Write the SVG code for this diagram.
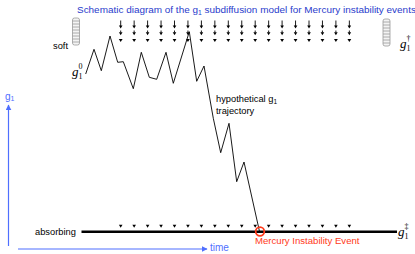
<svg xmlns="http://www.w3.org/2000/svg" xmlns:xlink="http://www.w3.org/1999/xlink" width="415" height="254" viewBox="0 0 415 254">
<style>
.sans{font-family:"Liberation Sans",Arial,sans-serif}
.ser{font-family:"Liberation Serif","Times New Roman",serif;font-style:italic}
.title{fill:#2a3ccc;font-size:9.95px}
.lbl{fill:#000;font-size:9.3px}
.red{fill:#ff3a1a;font-size:9.6px}
.blue{fill:#4f6fff;font-size:10px}
.traj{fill:none;stroke:#000;stroke-width:0.9}
.coil{fill:#f4f4f4;stroke:#999;stroke-width:0.8}
</style>
<defs>
<g id="col">
<line x1="0" y1="20.5" x2="0" y2="26" stroke="#000" stroke-width="0.9"/>
<path d="M-1.8,25.5 L1.8,25.5 L0,28.5 Z" fill="#000"/>
<line x1="0" y1="30.5" x2="0" y2="32.5" stroke="#000" stroke-width="0.9"/>
<path d="M-1.8,32.3 L1.8,32.3 L0,35.3 Z" fill="#000"/>
<path d="M-1.9,39 L1.9,39 L0,42 Z" fill="#000"/>
</g>
<path id="tri" d="M-1.8,224.8 L1.8,224.8 L0,227.8 Z" fill="#000"/>
<g id="spring">
<rect x="-3.5" y="0" width="7" height="27" rx="2" class="coil"/>
<path d="M-3.5,3 H3.5 M-3.5,6 H3.5 M-3.5,9 H3.5 M-3.5,12 H3.5 M-3.5,15 H3.5 M-3.5,18 H3.5 M-3.5,21 H3.5 M-3.5,24 H3.5" stroke="#999" stroke-width="0.8"/>
</g>
<marker id="ah" viewBox="0 0 10 10" refX="9" refY="5" markerWidth="5" markerHeight="5" orient="auto-start-reverse" markerUnits="strokeWidth">
<path d="M0,0 L10,5 L0,10 Z" fill="#4f6fff"/>
</marker>
</defs>
<g id="title">
<text class="sans title" x="77" y="12.5">Schematic diagram of the g<tspan font-size="6.8" dy="2">1</tspan><tspan dy="-2"> subdiffusion model for Mercury instability events</tspan></text>
</g>
<g id="top-boundary">
<use xlink:href="#col" x="120.7"/><use xlink:href="#col" x="134.15"/><use xlink:href="#col" x="147.6"/><use xlink:href="#col" x="161.05"/><use xlink:href="#col" x="174.5"/><use xlink:href="#col" x="187.95"/><use xlink:href="#col" x="201.4"/><use xlink:href="#col" x="214.85"/><use xlink:href="#col" x="228.3"/><use xlink:href="#col" x="241.75"/><use xlink:href="#col" x="255.2"/><use xlink:href="#col" x="268.65"/><use xlink:href="#col" x="282.1"/><use xlink:href="#col" x="295.55"/><use xlink:href="#col" x="309"/><use xlink:href="#col" x="322.45"/><use xlink:href="#col" x="335.9"/><use xlink:href="#col" x="349.35"/>
</g>
<g id="soft">
<use xlink:href="#spring" x="76" y="18"/>
<text class="sans lbl" x="53" y="48.5">soft</text>
</g>
<g id="spring-right">
<use xlink:href="#spring" x="386.5" y="19"/>
<text class="ser" font-size="13" x="400" y="48">g<tspan font-size="8" dy="3" font-style="normal">1</tspan><tspan font-size="8" dx="-4" dy="-10" font-style="normal">†</tspan></text>
</g>
<g id="start">
<text class="ser" font-size="13" x="72" y="76">g<tspan font-size="8" dy="3" font-style="normal">1</tspan><tspan font-size="8" dx="-4" dy="-10" font-style="normal">0</tspan></text>
</g>
<g id="trajectory">
<polyline class="traj" points="85.7,74 94,49.3 101.3,70.7 110,36 117.7,62.3 123.3,61.7 133.3,88.7 141.3,52.3 149.3,77.3 156.7,79.3 166,52.3 173.3,83.3 189.3,31.7 196.7,81.3 204,66 213.3,118.3 220.7,152.7 229,123.3 236.7,181.7 244,162 259.5,231.5"/>
<text class="sans lbl" x="216" y="102">hypothetical g<tspan font-size="6.5" dy="1.5">1</tspan></text>
<text class="sans lbl" x="216" y="113.5">trajectory</text>
</g>
<g id="absorbing">
<text class="sans lbl" x="35" y="234.5">absorbing</text>
<line x1="81.5" y1="231.7" x2="397" y2="231.7" stroke="#000" stroke-width="2.6"/>
<use xlink:href="#tri" x="120.7"/><use xlink:href="#tri" x="134.15"/><use xlink:href="#tri" x="147.6"/><use xlink:href="#tri" x="161.05"/><use xlink:href="#tri" x="174.5"/><use xlink:href="#tri" x="187.95"/><use xlink:href="#tri" x="201.4"/><use xlink:href="#tri" x="214.85"/><use xlink:href="#tri" x="228.3"/><use xlink:href="#tri" x="241.75"/><use xlink:href="#tri" x="255.2"/><use xlink:href="#tri" x="268.65"/><use xlink:href="#tri" x="282.1"/><use xlink:href="#tri" x="295.55"/><use xlink:href="#tri" x="309"/><use xlink:href="#tri" x="322.45"/><use xlink:href="#tri" x="335.9"/><use xlink:href="#tri" x="349.35"/>
<text class="ser" font-size="13" x="398" y="236">g<tspan font-size="8" dy="3" font-style="normal">1</tspan><tspan font-size="8" dx="-4" dy="-10" font-style="normal">‡</tspan></text>
</g>
<g id="event">
<circle cx="260" cy="231.5" r="4.3" fill="none" stroke="#ff3a1a" stroke-width="1.8"/>
<text class="sans red" x="255" y="244">Mercury Instability Event</text>
</g>
<g id="connectors">
<line x1="8.5" y1="246" x2="8.5" y2="105" stroke="#4f6fff" stroke-width="1.2" marker-end="url(#ah)"/>
<line x1="18" y1="249" x2="207" y2="249" stroke="#4f6fff" stroke-width="1.2" marker-end="url(#ah)"/>
</g>
<g id="axis-labels">
<text class="sans blue" x="5" y="99.5">g<tspan font-size="7" dy="1.5">1</tspan></text>
<text class="sans blue" x="210" y="251">time</text>
</g>
</svg>
